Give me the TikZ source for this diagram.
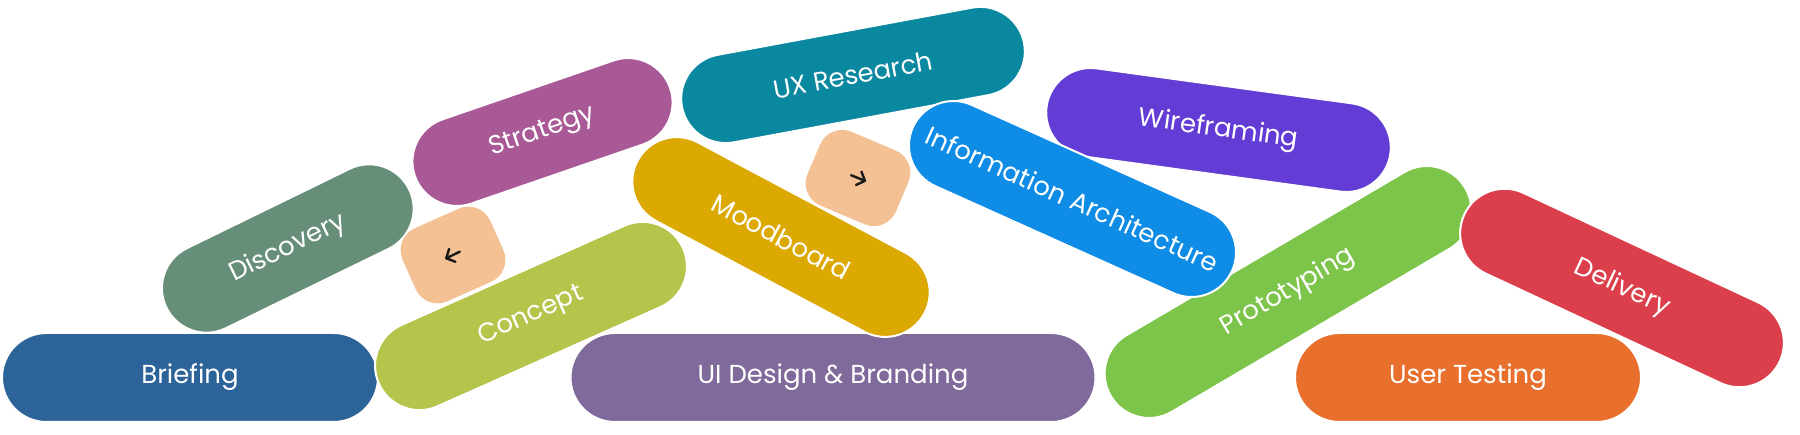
\documentclass[tikz,border=0pt]{standalone}
\usepackage{fontspec}
\setmainfont{Poppins}
\definecolor{cBrief}{HTML}{2C6499}
\definecolor{cDisc}{HTML}{668E78}
\definecolor{cStrat}{HTML}{A95996}
\definecolor{cConc}{HTML}{B5C44B}
\definecolor{cUX}{HTML}{0A88A0}
\definecolor{cMood}{HTML}{DBA902}
\definecolor{cUI}{HTML}{7F6A9B}
\definecolor{cIA}{HTML}{0E8CE6}
\definecolor{cWire}{HTML}{623CD4}
\definecolor{cProto}{HTML}{7CC44A}
\definecolor{cTest}{HTML}{E8702C}
\definecolor{cDeliv}{HTML}{DA3F4B}
\definecolor{cPeach}{HTML}{F4C194}
\tikzset{
  pill/.style={draw=white, line width=2pt, minimum height=89pt, rounded corners=44.5pt,
    inner sep=0pt, text=white, font=\fontsize{26}{30}\selectfont},
  peachbox/.style={fill=cPeach, minimum width=96pt, minimum height=80pt, rounded corners=24pt, inner sep=0pt},
  arrowicon/.style={draw=black!90, line width=2.4pt, line cap=round, line join=round}
}
\begin{document}
\begin{tikzpicture}[x=1pt,y=-1pt]
\useasboundingbox[fill=white] (0,0) rectangle (1800,435);
\node[pill, fill=cBrief, minimum width=376pt] (briefing) at (190,377.5) {Briefing};
\node[pill, fill=cUI, minimum width=525pt] (uidesign) at (833,377.5) {UI Design \& Branding};
\node[pill, fill=cTest, minimum width=346pt] (testing) at (1468,377.5) {User Testing};
\node[pill, fill=cDisc, minimum width=270pt, rotate=26] (discovery) at (287.8,248.5) {Discovery};
\node[pill, fill=cStrat, minimum width=270pt, rotate=19] (strategy) at (542.5,132) {Strategy};
\node[pill, fill=cConc, minimum width=333pt, rotate=24] (concept) at (531,316) {Concept};
\node[pill, fill=cUX, minimum width=348pt, rotate=10.5] (ux) at (853,75) {UX Research};
\node[pill, fill=cMood, minimum width=325pt, rotate=-28] (mood) at (781,237) {Moodboard};
\node[pill, fill=cWire, minimum width=347pt, rotate=-7.8] (wire) at (1218.5,130) {Wireframing};
\node[pill, fill=cProto, minimum width=411pt, rotate=30.4] (proto) at (1288,292) {Prototyping};
\node[pill, fill=cIA, minimum width=350pt, rotate=-24.2] (ia) at (1072.5,199) {Information Architecture};
\node[pill, fill=cDeliv, minimum width=348pt, rotate=-25] (delivery) at (1622,288) {Delivery};
\node[peachbox, rotate=24] (peachA) at (453,255) {};
\node[peachbox, rotate=-23] (peachB) at (858,178) {};
\begin{scope}[shift={(peachA.center)}, rotate=26]
  \draw[arrowicon] (7.5,0) -- (-7.5,0);
  \draw[arrowicon] (-0.8,-7.2) -- (-7.5,0) -- (-0.8,7.2);
\end{scope}
\begin{scope}[shift={(peachB.center)}, rotate=-22]
  \draw[arrowicon] (-7.5,0) -- (7.5,0);
  \draw[arrowicon] (0.8,-7.2) -- (7.5,0) -- (0.8,7.2);
\end{scope}
\end{tikzpicture}
\end{document}
